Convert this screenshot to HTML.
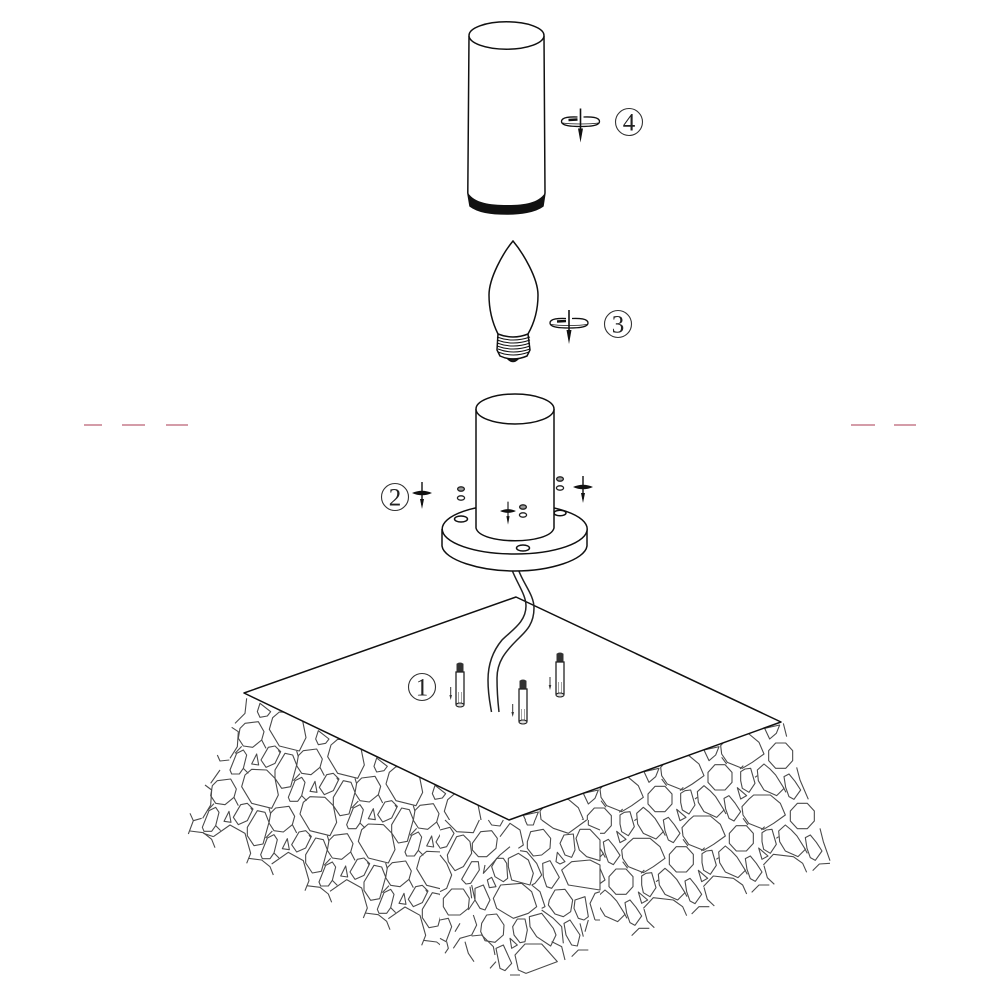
<!DOCTYPE html>
<html><head><meta charset="utf-8"><style>
html,body{margin:0;padding:0;background:#fff}
svg{display:block}
text{font-family:"Liberation Serif",serif;fill:#222}
</style></head><body>
<svg width="1000" height="1000" viewBox="0 0 1000 1000" xmlns="http://www.w3.org/2000/svg">
<defs>
<g id="lOct"><polygon points="-20,-33 20,-38 37,-8 30,17 3,39 -25,35 -40,12 -35,-18"/></g>
<g id="lT">
<use href="#lOct"/>
<polygon points="53,-15 63,-50 83,-67 128,-65 153,-40 163,10 143,50 83,35"/>
<polygon points="-65,107 -45,57 -25,47 -15,62 -25,102 -37,119 -60,119"/>
<polygon points="0,89 15,59 21,92"/>
<polygon points="28,77 50,39 70,35 87,52 70,87 43,99"/>
<polygon points="70,107 100,57 123,62 135,92 117,157 90,162 70,132"/>
<path d="M30,17 L43,42 M-30,36 L-50,57 M-25,102 L-10,117 M80,48 L85,55 M135,50 L140,67"/>
</g>
<polygon id="lTop" points="17,-68 25,-93 57,-68 47,-55 25,-51"/>
<path id="lRagA" d="M100,440 L150,405 L195,430 L212,490 L200,520"/>
<path id="lRagB" d="M205,505 L245,510 L270,530 L280,555"/>
<polygon id="rOct" points="-36,-15 -15,-38 15,-38 36,-15 36,15 15,38 -15,38 -36,15"/>
<g id="rT">
<use href="#rOct"/>
<polygon points="2,-95 22,-117 37,-130 87,-130 117,-105 132,-70 97,-45 67,-27 22,-45 5,-70"/>
<polygon points="62,-17 75,-25 92,-27 105,18 87,45 67,33 62,10"/>
<polygon points="112,-22 132,-40 150,-25 167,-7 192,33 170,55 132,38 115,10"/>
<polygon points="192,-2 207,-10 225,12 242,38 222,66 207,58 197,30"/>
<path d="M20,-40 L5,-60 M105,0 L112,-5 M190,30 L198,45 M60,-25 L70,-35"/>
</g>
<polygon id="rTri" points="232,-34 260,-10 242,0"/>
<polygon id="rTop" points="-48,-82 -3,-92 -13,-67 -33,-50"/>
<path id="rRag" d="M610,590 L640,558 L700,565 L728,585 L740,612 M612,592 L622,628 L643,648 M575,672 L597,650 L628,650"/>
<g id="rot" fill="none" stroke="#111">
<path d="M-19,0 C-19,-4.5 -10,-4.8 -3,-4.5 M3,-4.5 C10,-4.8 19,-4.5 19,0 C19,4.7 8,5 0,5 C-8,5 -19,4.7 -19,0" stroke-width="1.3"/>
<path d="M-18,1.5 C-10,2.8 10,2.8 18,1.5" stroke-width=".8"/>
<path d="M-12,-1.5 L-3,-2" stroke-width="2.4"/>
<path d="M0,-13 V14" stroke-width="1.6"/>
<polygon points="-2.5,7 2.5,7 0,21" fill="#111" stroke="none"/>
</g>
<g id="scr" fill="#111" stroke="#111">
<path d="M0,-11 V12" stroke-width="1.4" fill="none"/>
<polygon points="-2,6 2,6 0,16" stroke="none"/>
<path d="M-10,0 Q0,-4.5 10,0 Q0,4.5 -10,0Z" stroke="none"/>
</g>
<g id="bolt">
<path d="M-3,1 Q0,-1 3,1 L3,9 L-3,9Z" fill="#333" stroke="#333" stroke-width="1"/>
<rect x="-4" y="9" width="8" height="32" fill="#fff" stroke="#222" stroke-width="1.3"/>
<path d="M-1.5,29 V41 M1.5,29 V41" stroke="#888" stroke-width=".8"/>
<ellipse cx="0" cy="42" rx="4" ry="2" fill="#ddd" stroke="#222" stroke-width="1.1"/>
</g>
<g id="darr"><path d="M0,0 V10" stroke="#333" stroke-width="1"/><polygon points="-1.3,8 1.3,8 0,13" fill="#333"/></g>
</defs>

<rect width="1000" height="1000" fill="#fff"/>

<!-- red dashes -->
<g stroke="#a83a52" stroke-width="1.1">
<path d="M84,425 H102 M122,425 H145 M166,425 H188 M851,425 H875 M894,425 H916"/>
</g>

<!-- cobbles left -->
<g transform="translate(180 690) scale(.33333)" fill="none" stroke="#4a4a4a" stroke-width="3.3" stroke-linejoin="round">
<use href="#lT" x="215" y="133"/><use href="#lT" x="390" y="215"/><use href="#lT" x="565" y="297"/><use href="#lT" x="740" y="379"/>
<use href="#lT" x="132" y="305"/><use href="#lT" x="307" y="387"/><use href="#lT" x="482" y="469"/><use href="#lT" x="657" y="551"/>
<use href="#lTop" x="215" y="133"/><use href="#lTop" x="390" y="215"/><use href="#lTop" x="565" y="297"/><use href="#lTop" x="740" y="379"/>
<use href="#lRagB" x="-175" y="-82"/>
<use href="#lRagA"/><use href="#lRagB"/>
<use href="#lRagA" x="175" y="82"/><use href="#lRagB" x="175" y="82"/>
<use href="#lRagA" x="350" y="164"/><use href="#lRagB" x="350" y="164"/>
<use href="#lRagA" x="525" y="246"/><use href="#lRagB" x="525" y="246"/>
<path d="M200,25 L195,70 L165,100 M155,112 L175,125 L172,170 L150,205 M112,195 L120,213 L148,210 M120,240 L92,280 M75,285 L95,300 L92,345 L68,385 M30,370 L40,392 L25,432 M40,392 L65,385 M100,440 L70,430"/>
</g>

<!-- cobbles right -->
<g transform="translate(500 690) scale(.33333)" fill="none" stroke="#4a4a4a" stroke-width="3.3" stroke-linejoin="round">
<use href="#rT" x="118" y="458"/><use href="#rT" x="298" y="392"/><use href="#rT" x="480" y="327"/><use href="#rT" x="660" y="262"/><use href="#rOct" x="842" y="197"/>
<use href="#rT" x="183" y="640"/><use href="#rT" x="363" y="575"/><use href="#rT" x="544" y="508"/><use href="#rT" x="724" y="445"/><use href="#rOct" x="907" y="378"/>
<use href="#rTri" x="118" y="458"/><use href="#rTri" x="298" y="392"/><use href="#rTri" x="480" y="327"/>
<use href="#rTri" x="183" y="640"/><use href="#rTri" x="363" y="575"/><use href="#rTri" x="544" y="508"/>
<use href="#rTop" x="118" y="458"/><use href="#rTop" x="298" y="392"/><use href="#rTop" x="480" y="327"/><use href="#rTop" x="660" y="262"/><use href="#rTop" x="842" y="197"/>
<use href="#rRag" x="180" y="-65"/><use href="#rRag"/><use href="#rRag" x="-180" y="65"/>
<path d="M850,100 L860,140 M890,232 L900,270 L925,328 M960,415 L970,455 L990,512 M938,542 L958,522 L990,520"/>
</g>

<!-- centre area redrawn -->
<rect x="440" y="820" width="160" height="160" fill="#fff"/>
<g transform="translate(440 820) scale(.33333)" fill="none" stroke="#4a4a4a" stroke-width="3.3" stroke-linejoin="round">
<path d="M15,0 L50,35 L100,38 L118,0 M145,0 L155,15 L180,18 L190,0 M255,0 L262,15 L280,15 L285,0 M305,0 L340,25 L385,40 L440,0 M445,0 L445,15 L480,30"/>
<path d="M0,30 L30,22 L42,40 L20,80 L0,85"/>
<polygon points="22,105 50,50 70,45 90,65 95,100 70,140 45,152 25,125"/>
<polygon points="97,70 122,35 155,32 172,55 168,85 140,110 115,110 97,90"/>
<polygon points="262,65 272,35 310,28 332,55 330,85 305,105 280,108 262,85"/>
<polygon points="360,70 372,45 400,42 405,90 395,112 375,105"/>
<polygon points="408,55 420,28 450,28 480,60 480,122 440,110 418,90"/>
<path d="M0,105 L20,130 L35,165 L20,205 L0,215"/>
<polygon points="65,178 95,125 115,125 118,150 92,190 78,192"/>
<polygon points="155,140 170,115 190,115 200,130 203,175 190,185 165,170"/>
<polygon points="205,115 235,100 265,120 280,160 270,195 215,180 205,140"/>
<polygon points="142,180 155,172 168,200 148,203"/>
<polygon points="308,130 330,122 358,172 335,205 320,200 310,170"/>
<polygon points="348,125 352,97 375,125 360,132"/>
<polygon points="365,150 395,125 450,120 480,135 480,210 385,195"/>
<polygon points="160,235 182,195 245,190 275,215 290,260 265,280 220,295 170,265"/>
<polygon points="10,235 35,207 70,207 88,235 85,265 60,285 25,285 10,260"/>
<polygon points="105,205 130,195 150,240 135,270 120,265 105,240"/>
<polygon points="328,240 345,210 375,208 398,240 392,275 370,290 345,282 325,255"/>
<polygon points="405,240 435,230 445,290 432,300 415,295 402,265"/>
<path d="M480,215 L465,220 L450,250 L465,300 M480,300 H465"/>
<path d="M0,300 L25,295 L35,320 L18,365 L0,355"/>
<polygon points="125,310 140,285 170,282 192,315 190,345 165,367 135,362 122,335"/>
<polygon points="218,320 232,297 255,297 262,330 255,365 240,368 222,345"/>
<polygon points="268,290 305,280 340,325 348,345 332,378 290,350 270,320"/>
<polygon points="372,310 390,300 420,345 412,378 395,375 378,345"/>
<path d="M435,335 L445,300 M430,350 L420,310"/>
<polygon points="210,355 232,375 215,385"/>
<polygon points="168,385 190,375 215,430 195,452 180,445"/>
<polygon points="225,405 255,372 305,372 352,425 258,460 235,450"/>
<path d="M45,335 L60,310 M100,285 L110,315 L95,345 L60,355 L40,385 M20,365 L25,385 L15,400 M75,365 L85,400 L102,425 M95,348 L125,345 L160,380 L165,405 M150,445 L168,425 M95,195 L105,240 L85,270 M90,200 L95,235 M210,80 L180,105 L130,160 L135,135 M180,50 L210,10 L240,30 L250,75 L235,85 M240,92 L260,95 L290,130 L305,165 L285,190 L275,195 M275,195 L300,215 L315,260 L305,265 M305,270 L340,295 L365,320 L370,370 M335,365 L365,380 L375,420 M395,410 L415,390 L445,390 M210,465 H240"/>
</g>

<!-- slab -->
<polygon points="244,693 516,597 781,722 509,820" fill="#fff" stroke="#111" stroke-width="1.5" stroke-linejoin="round"/>

<!-- wire -->
<g fill="none" stroke="#222" stroke-width="1.5">
<path d="M512,570 C518,585 526,595 526,606 C526,622 512,630 502,640 C492,652 488,665 488,680 C488,695 490,703 491.5,712"/>
<path d="M518.5,570 C524,585 534,595 534,608 C534,625 525,632 517,640 C505,652 497,662 497,678 C497,695 498,703 499,712"/>
</g>

<!-- bolts -->
<use href="#bolt" x="460" y="663"/><use href="#bolt" x="523" y="680"/><use href="#bolt" x="560" y="653"/>
<use href="#darr" x="450.7" y="687"/><use href="#darr" x="512.7" y="704"/><use href="#darr" x="550" y="677"/>

<!-- labels -->
<g fill="#fff" stroke="#333" stroke-width="1.1">
<circle cx="629" cy="122" r="13.5"/><circle cx="618" cy="324" r="13.5"/><circle cx="395" cy="497" r="13.5"/><circle cx="422" cy="687" r="13.5"/>
</g>
<g font-size="25" text-anchor="middle">
<text x="629" y="130.5">4</text><text x="618" y="332.5">3</text><text x="395" y="505.5">2</text><text x="422" y="695.5">1</text>
</g>

<!-- shade -->
<g stroke="#111" stroke-width="1.5" fill="#fff">
<path d="M469,36 L467.8,193 L470,206 C478,212 490,214 507,214 C520,214 535,212 543,206 L545,193 L544,36"/>
<ellipse cx="506.5" cy="35.5" rx="37.5" ry="13.7"/>
</g>
<path d="M468,193 C475,203 490,205 507,205 C525,205 538,203 545,193 L543,206 C535,212 520,214 507,214 C490,214 478,212 470,206Z" fill="#111"/>

<!-- bulb -->
<g stroke="#111" stroke-width="1.5" fill="#fff">
<path d="M498,334 C491,320 489,307 489,295 C489,278 503,253 513,241 C523,253 538,278 538,295 C538,307 536,320 528,334"/>
<path d="M498,334 Q513,340 528,334 L530,350 L527,356 Q513,362 500,356 L497,350Z"/>
<g fill="none" stroke-width="1">
<path d="M497,337 Q513,343 530,337 M497,340 Q513,346 530,340 M497,343 Q513,349 530,343 M497,346 Q513,352 530,346 M498,349 Q513,355 530,349 M498,352 Q513,358 529,352"/>
</g>
<path d="M508,359 Q513,364 518,359Z" fill="#222"/>
</g>
<use href="#rot" x="580.5" y="121.5"/>
<use href="#rot" x="569" y="323"/>

<!-- base -->
<g stroke="#111" stroke-width="1.5" fill="#fff">
<path d="M442,529 V546 C444,560 480,571 515,571 C550,571 585,560 587,546 V529"/>
<ellipse cx="514.7" cy="529" rx="72.5" ry="25"/>
<ellipse cx="461" cy="519" rx="6.5" ry="3"/>
<ellipse cx="560" cy="513" rx="6" ry="2.8"/>
<ellipse cx="523" cy="548" rx="6.5" ry="3"/>
<path d="M476,409 V528 C480,545 550,545 554,528 V409"/>
<ellipse cx="515" cy="409" rx="39" ry="15"/>
</g>
<g fill="#fff" stroke="#222" stroke-width="1.3">
<ellipse cx="461" cy="489" rx="3.4" ry="2.2" fill="#999"/><ellipse cx="461" cy="498" rx="3.6" ry="2.2"/>
<ellipse cx="560" cy="479" rx="3.4" ry="2.2" fill="#999"/><ellipse cx="560" cy="488" rx="3.6" ry="2.2"/>
<ellipse cx="523" cy="507" rx="3.4" ry="2.2" fill="#999"/><ellipse cx="523" cy="515" rx="3.6" ry="2.2"/>
</g>
<use href="#scr" x="422" y="493"/><use href="#scr" x="583" y="487"/>
<g transform="translate(508 511) scale(.8 .85)"><use href="#scr"/></g>
</svg>
</body></html>
